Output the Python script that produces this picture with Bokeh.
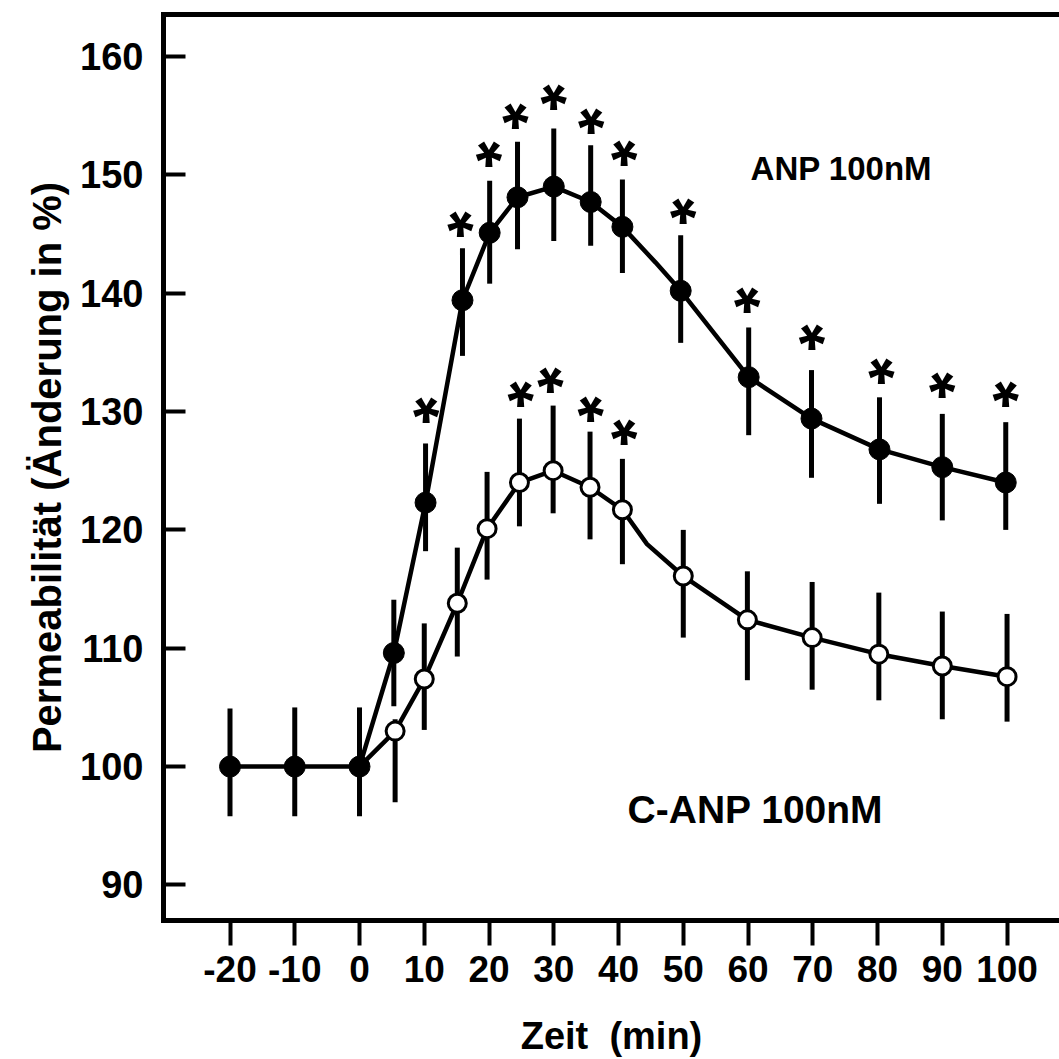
from bokeh.plotting import figure
from bokeh.models import Range1d, LinearAxis, FixedTicker
from bokeh.core.properties import value
from bokeh.embed import file_html
from bokeh.resources import INLINE

# ---------------- data ----------------
x_ticks = [-20, -10, 0, 10, 20, 30, 40, 50, 60, 70, 80, 90, 100]
x_tick_labels = ["-20", "-10", "0", "10", "20", "30", "40", "50", "60", "70", "80", "90", "100"]
y_ticks = [90, 100, 110, 120, 130, 140, 150, 160]

# ANP 100nM (filled circles)
anp_t = [-20, -10, 0, 5.3, 10.2, 15.9, 20.1, 24.4, 30.0, 35.7, 40.6, 49.6, 60.1, 69.8, 80.3, 90.0, 99.8]
anp_mean = [100, 100, 100, 109.6, 122.3, 139.4, 145.1, 148.1, 149.0, 147.7, 145.6, 140.2, 132.9, 129.4, 126.8, 125.3, 124.0]
anp_hi = [104.9, 105.0, 105.0, 114.1, 127.3, 143.8, 149.5, 152.8, 153.9, 152.5, 149.6, 144.9, 137.1, 133.5, 131.2, 129.8, 129.1]
anp_lo = [95.8, 95.8, 95.8, 105.1, 118.2, 134.7, 140.8, 143.7, 144.4, 144.0, 141.7, 135.8, 128.0, 124.4, 122.2, 120.8, 120.0]
# connecting line (with its drawn bend near 45 min)
anp_line_t = [-20, -10, 0, 5.3, 10.2, 15.9, 20.1, 24.4, 30.0, 35.7, 40.6, 45.7, 49.6, 60.1, 69.8, 80.3, 90.0, 99.8]
anp_line_v = [100, 100, 100, 109.6, 122.3, 139.4, 145.1, 148.1, 149.0, 147.7, 145.6, 142.6, 140.2, 132.9, 129.4, 126.8, 125.3, 124.0]
anp_star_t = [10.3, 15.6, 20.0, 24.1, 30.0, 35.8, 40.9, 50.0, 59.9, 69.9, 80.6, 90.0, 99.8]
anp_star_v = [129.9, 145.6, 151.5, 154.7, 156.3, 154.3, 151.6, 146.7, 139.2, 136.0, 133.2, 132.0, 131.2]

# C-ANP 100nM (open circles)
canp_t = [5.5, 10.0, 15.1, 19.7, 24.7, 29.9, 35.6, 40.6, 50.0, 59.9, 69.9, 80.2, 90.0, 100.0]
canp_mean = [103.0, 107.4, 113.8, 120.1, 124.0, 125.0, 123.6, 121.7, 116.1, 112.4, 110.9, 109.5, 108.5, 107.6]
canp_hi = [104.0, 112.1, 118.5, 124.9, 129.4, 130.5, 128.3, 126.0, 120.0, 116.5, 115.6, 114.7, 113.1, 112.9]
canp_lo = [97.0, 103.1, 109.3, 115.8, 120.3, 121.4, 119.2, 117.1, 110.9, 107.3, 106.5, 105.6, 104.0, 103.8]
canp_line_t = [0, 5.5, 10.0, 15.1, 19.7, 24.7, 29.9, 35.6, 40.6, 44.4, 50.0, 59.9, 69.9, 80.2, 90.0, 100.0]
canp_line_v = [100, 103.0, 107.4, 113.8, 120.1, 124.0, 125.0, 123.6, 121.7, 118.8, 116.1, 112.4, 110.9, 109.5, 108.5, 107.6]
canp_star_t = [24.9, 29.5, 35.7, 40.9]
canp_star_v = [131.2, 132.4, 130.0, 128.0]

label_anp = "ANP 100nM"
label_canp = "C-ANP 100nM"
x_title = "Zeit \u00a0(min)"
y_title = "Permeabilität (Änderung in %)"

FONT = "Liberation Sans"

# ---------------- figure ----------------
p = figure(width=1059, height=1059,
           x_range=Range1d(-30.27, 108.1), y_range=Range1d(87.0, 163.54),
           output_backend="svg", toolbar_location=None,
           min_border_left=163, min_border_right=0,
           min_border_top=14, min_border_bottom=138)
p.outline_line_color = None
p.grid.visible = False
p.background_fill_color = "white"
p.border_fill_color = "white"

# x axis
xa = p.xaxis[0]
xa.ticker = FixedTicker(ticks=x_ticks)
xa.major_label_overrides = {t: s for t, s in zip(x_ticks, x_tick_labels)}
xa.axis_line_width = 5
xa.axis_line_cap = "square"
xa.major_tick_line_width = 4
xa.major_tick_out = 25
xa.major_tick_in = 0
xa.minor_tick_line_color = None
xa.major_label_text_font = FONT
xa.major_label_text_font_style = "bold"
xa.major_label_text_font_size = "37px"
xa.major_label_text_color = "black"
xa.major_label_standoff = 10
xa.axis_label = x_title
xa.axis_label_text_font = FONT
xa.axis_label_text_font_style = "bold"
xa.axis_label_text_font_size = "38px"
xa.axis_label_text_color = "black"
xa.axis_label_standoff = 30

# y axis
ya = p.yaxis[0]
ya.ticker = FixedTicker(ticks=y_ticks)
ya.axis_line_width = 5
ya.axis_line_cap = "square"
ya.major_tick_line_width = 4
ya.major_tick_out = 0
ya.major_tick_in = 22
ya.minor_tick_line_color = None
ya.major_label_text_font = FONT
ya.major_label_text_font_style = "bold"
ya.major_label_text_font_size = "38px"
ya.major_label_text_color = "black"
ya.major_label_standoff = 20
ya.axis_label = y_title
ya.axis_label_text_font = FONT
ya.axis_label_text_font_style = "bold"
ya.axis_label_text_font_size = "40px"
ya.axis_label_text_color = "black"
ya.axis_label_standoff = 8

# top frame line
top = LinearAxis(ticker=FixedTicker(ticks=[]), axis_line_width=5, axis_line_cap="square",
                 major_tick_out=0, major_tick_in=0, minor_tick_line_color=None,
                 major_label_text_font_size="0px")
p.add_layout(top, "above")

# error bars
p.segment(x0=anp_t, y0=anp_lo, x1=anp_t, y1=anp_hi, line_width=5, line_color="black")
p.segment(x0=canp_t, y0=canp_lo, x1=canp_t, y1=canp_hi, line_width=5, line_color="black")

# lines
p.line(anp_line_t, anp_line_v, line_width=4.5, line_color="black", line_join="round")
p.line(canp_line_t, canp_line_v, line_width=4.5, line_color="black", line_join="round")

# markers
p.scatter(canp_t, canp_mean, marker="circle", size=18, fill_color="white",
          line_color="black", line_width=3)
p.scatter(anp_t, anp_mean, marker="circle", size=21, fill_color="black",
          line_color="black", line_width=1)

# significance stars
star_kw = dict(text=value("*"), angle=3.14159265, text_align="center", text_baseline="middle",
               text_font=value(FONT), text_font_style="bold", text_font_size="68px",
               text_color="black", y_offset=-13)
p.text(x=anp_star_t, y=anp_star_v, **star_kw)
p.text(x=canp_star_t, y=canp_star_v, **star_kw)

# series labels
p.text(x=[60.4], y=[150.5], text=value(label_anp), text_align="left", text_baseline="alphabetic",
       text_font=value(FONT), text_font_style="bold",
       text_font_size="33px", text_color="black")
p.text(x=[41.4], y=[96.4], text=value(label_canp), text_align="left", text_baseline="alphabetic",
       text_font=value(FONT), text_font_style="bold",
       text_font_size="39px", text_color="black")

open("out.html", "w").write(file_html(p, INLINE))
